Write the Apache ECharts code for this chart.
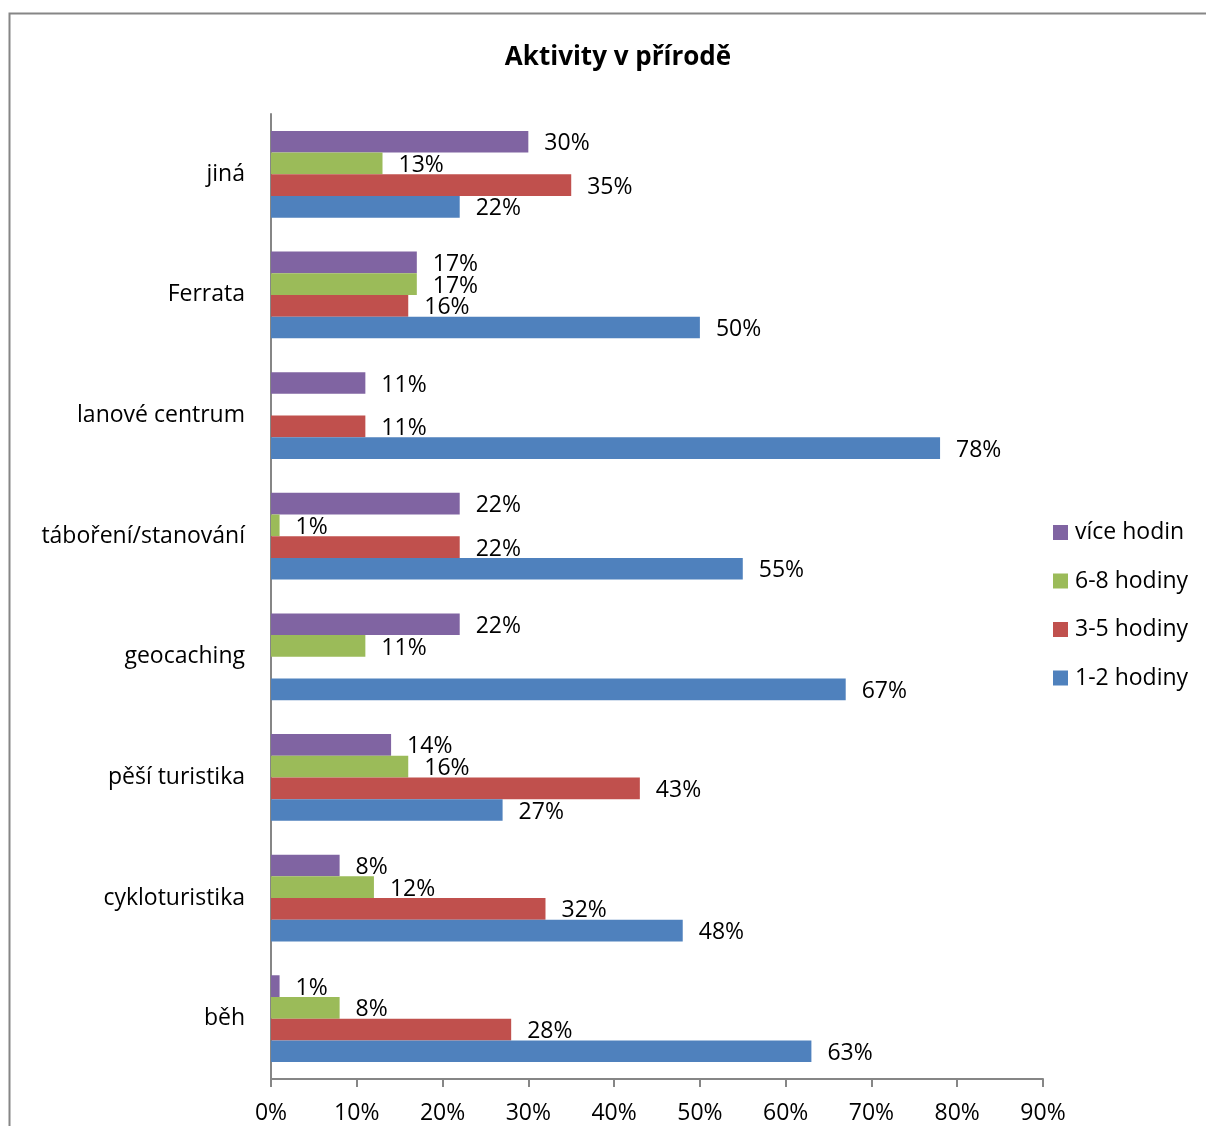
<!DOCTYPE html>
<html>
<head>
<meta charset="utf-8">
<script src="https://cdn.jsdelivr.net/npm/echarts@6/dist/echarts.min.js"></script>
<style>
  html, body { margin: 0; padding: 0; background: #fff; }
  #chart { width: 1206px; height: 1126px; }
</style>
</head>
<body>
<div id="chart"></div>
<script>
// Activity categories, listed from the bottom of the axis upwards
const categories = ['běh', 'cykloturistika', 'pěší turistika', 'geocaching', 'táboření/stanování', 'lanové centrum', 'Ferrata', 'jiná'];

// Share of respondents per time spent (percent); null = no answer in that group
const hodiny1_2 = [63, 48, 27, 67, 55, 78, 50, 22];
const hodiny3_5 = [28, 32, 43, null, 22, 11, 16, 35];
const hodiny6_8 = [8, 12, 16, 11, 1, null, 17, 13];
const viceHodin = [1, 8, 14, 22, 22, 11, 17, 30];

const xTicks = [0, 10, 20, 30, 40, 50, 60, 70, 80, 90];

const FONT = 'Open Sans';
const FS = 23;
const colors = {
  '1-2 hodiny': '#4F81BD',
  '3-5 hodiny': '#C0504D',
  '6-8 hodiny': '#9BBB59',
  'více hodin': '#8064A2'
};

function makeSeries(name, data) {
  return {
    name: name,
    type: 'bar',
    data: data,
    barGap: '0%',
    barCategoryGap: '28%',
    itemStyle: { color: colors[name] },
    label: {
      show: true,
      position: 'right',
      distance: 16,
      offset: [0, 2],
      color: '#000',
      fontFamily: FONT,
      fontSize: FS,
      formatter: p => p.value == null ? '' : p.value + '%'
    }
  };
}

const chart = echarts.init(document.getElementById('chart'));
chart.setOption({
  animation: false,
  backgroundColor: '#fff',
  title: {
    text: 'Aktivity v přírodě',
    left: 613,
    textAlign: 'center',
    top: 40,
    textStyle: { fontFamily: FONT, fontWeight: 'bold', fontSize: 26, color: '#000' }
  },
  graphic: [{
    type: 'rect',
    shape: { x: 9.5, y: 13.5, width: 1400, height: 1400 },
    style: { fill: 'none', stroke: '#868686', lineWidth: 2 },
    silent: true
  }],
  legend: {
    orient: 'vertical',
    left: 1053,
    top: 521,
    padding: 0,
    itemWidth: 15,
    itemHeight: 15,
    itemGap: 25.5,
    icon: 'rect',
    data: ['více hodin', '6-8 hodiny', '3-5 hodiny', '1-2 hodiny'],
    textStyle: { fontFamily: FONT, fontSize: FS, color: '#000', padding: [0, 0, 0, 2] }
  },
  grid: { left: 271, right: 163, top: 114, bottom: 47, containLabel: false },
  xAxis: {
    type: 'value',
    min: xTicks[0],
    max: xTicks[xTicks.length - 1],
    interval: 10,
    axisLine: { show: true, lineStyle: { color: '#868686', width: 2 } },
    axisTick: { show: true, length: 8, lineStyle: { color: '#868686', width: 2 } },
    splitLine: { show: false },
    axisLabel: {
      fontFamily: FONT, fontSize: FS, color: '#000', margin: 23,
      formatter: v => v + '%'
    }
  },
  yAxis: {
    type: 'category',
    data: categories,
    axisLine: { show: true, lineStyle: { color: '#868686', width: 2 } },
    axisTick: { show: false },
    axisLabel: { fontFamily: FONT, fontSize: FS, color: '#000', margin: 26 }
  },
  // Series listed top-down within each group: longest sessions on top
  series: [
    makeSeries('více hodin', viceHodin),
    makeSeries('6-8 hodiny', hodiny6_8),
    makeSeries('3-5 hodiny', hodiny3_5),
    makeSeries('1-2 hodiny', hodiny1_2)
  ]
});
</script>
</body>
</html>
